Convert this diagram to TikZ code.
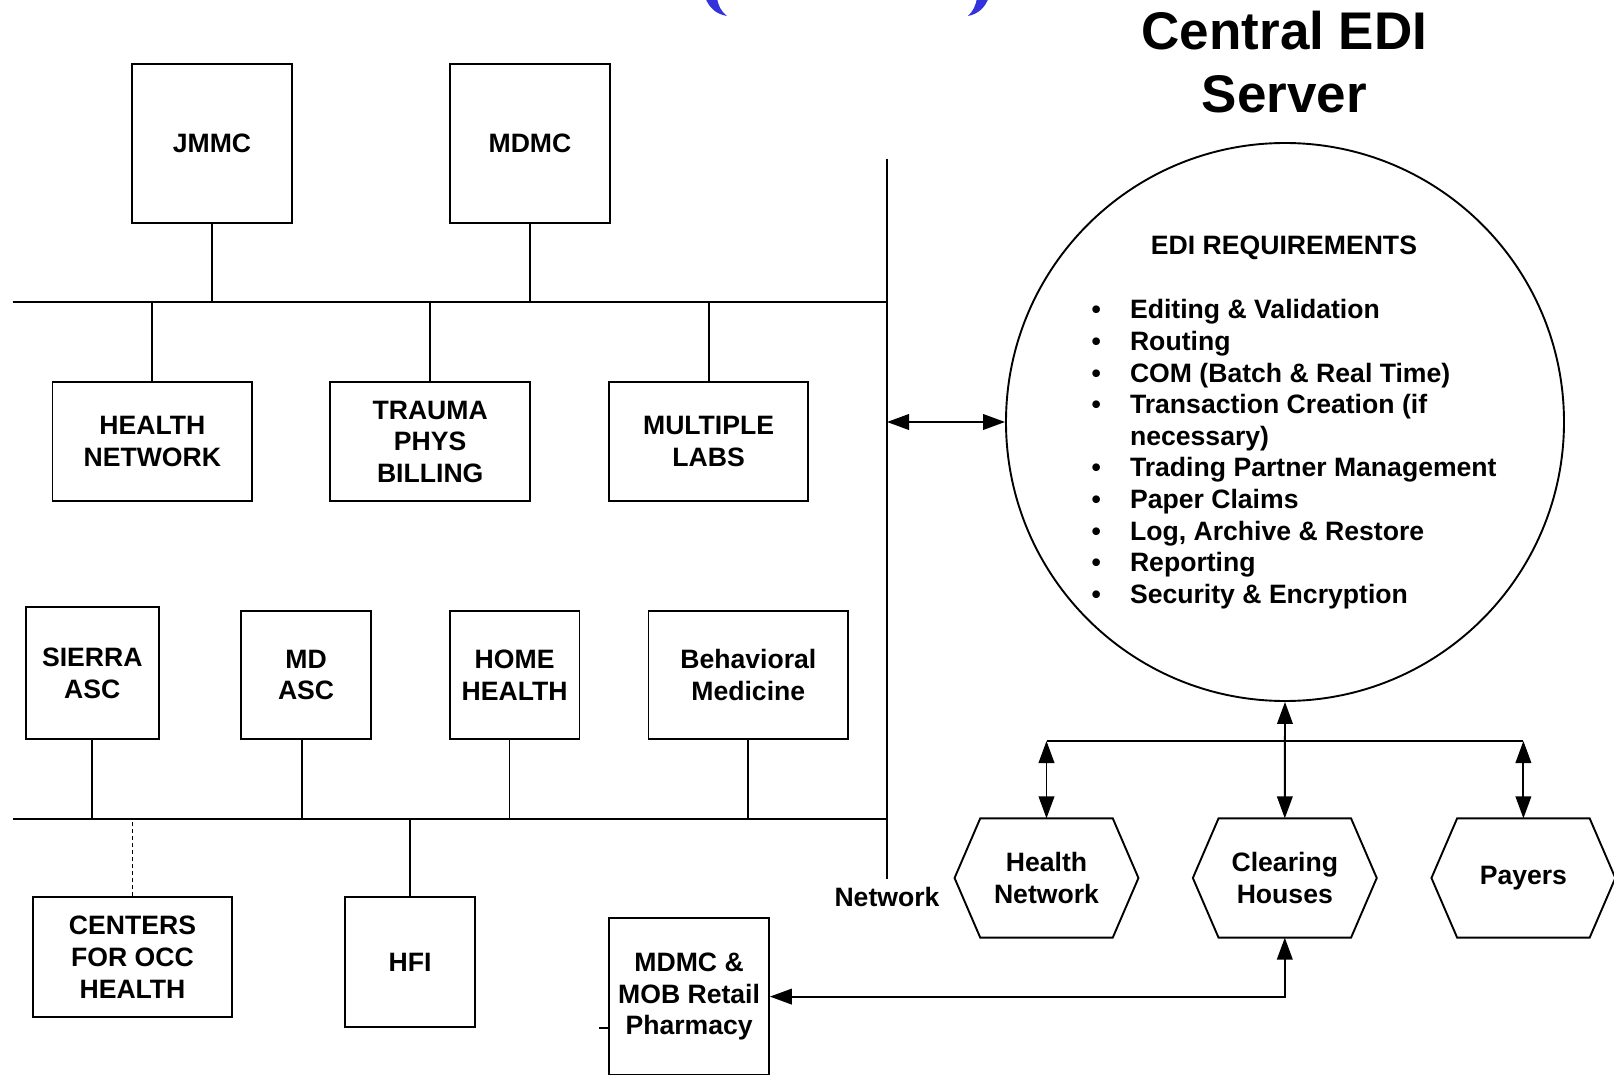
\documentclass[tikz,border=0pt]{standalone}
\usepackage{fontspec}
\newfontfamily\lsans{Liberation Sans}
\usetikzlibrary{arrows.meta}
\definecolor{titleblue}{RGB}{51,51,221}
\newcommand\bul{\makebox[0pt]{•}\hspace*{16.95pt}}
\newcommand\hexof[1]{\draw[hexline] (#1.west) -- ([xshift=12.85pt]#1.north west) -- ([xshift=-12.85pt]#1.north east) -- (#1.east) -- ([xshift=-12.85pt]#1.south east) -- ([xshift=12.85pt]#1.south west) -- cycle;}
\begin{document}
\begin{tikzpicture}[x=0.5pt,y=-0.5pt,
  line width=0.95pt,
  >={Triangle[length=11pt,width=7.8pt]},
  lbl/.style={font={\fontsize{13.3}{15.8}\lsans\bfseries}, align=center, inner sep=0pt},
  box/.style={lbl, draw, rectangle},
  hexlbl/.style={lbl, minimum width=91pt, minimum height=58.7pt},
  hexline/.style={line join=miter},
  dashlink/.style={dash pattern=on 2.3pt off 1.2pt}]
\useasboundingbox (0,0) rectangle (1614,1075);
\clip (0,0) rectangle (1614,1075);

% blue arcs at the top
\fill[titleblue] (705,-3) .. controls (709,8) and (716,14) .. (727,16) .. controls (721,11) and (718,6) .. (717,-3) -- cycle;
\fill[titleblue] (989,-3) .. controls (985,8) and (978,14) .. (968,16) .. controls (973,11) and (976,6) .. (977,-3) -- cycle;

% title (base anchor = baseline of last line)
\node[font={\fontsize{26.5}{31.3}\lsans\bfseries}, align=center, anchor=base, inner sep=0pt] (title) at (1284.5,112.5) {Central EDI\\Server};

% boxes
\node[box, minimum width=79.7pt, minimum height=79.5pt] (jmmc) at (212,143.5) {JMMC};
\node[box, minimum width=80pt, minimum height=79.5pt] (mdmc) at (530,143.5) {MDMC};
\node[box, minimum width=99.85pt, minimum height=59.7pt] (hn) at (152.3,441.6) {HEALTH\\NETWORK};
\node[box, minimum width=99.85pt, minimum height=59.7pt] (tr) at (430.2,441.6) {TRAUMA\\PHYS\\BILLING};
\node[box, minimum width=99.35pt, minimum height=59.7pt] (ml) at (708.6,441.6) {MULTIPLE\\LABS};
\node[box, minimum width=66.35pt, minimum height=66pt] (si) at (92.3,673.3) {SIERRA\\ASC};
\node[box, minimum width=64.85pt, minimum height=64.3pt] (mda) at (306.1,675) {MD\\ASC};
\node[box, minimum width=64.85pt, minimum height=64.3pt] (hh) at (514.6,675) {HOME\\HEALTH};
\node[box, minimum width=99.8pt, minimum height=64.3pt] (bm) at (748.3,675) {Behavioral\\Medicine};
\node[box, minimum width=99.8pt, minimum height=59.85pt] (coh) at (132.5,957.2) {CENTERS\\FOR OCC\\HEALTH};
\node[box, minimum width=65pt, minimum height=64.95pt] (hfi) at (410,962.3) {HFI};
\node[box, minimum width=79.85pt, minimum height=78.6pt] (ph) at (689.1,996.6) {MDMC \&\\MOB Retail\\Pharmacy};

% network and buses
\coordinate (tbL) at (12.5,302);
\coordinate (tbR) at (887,302);
\coordinate (bbL) at (12.5,819.3);
\coordinate (bbR) at (887,819.3);
\coordinate (nT) at (887,159);
\coordinate (nB) at (887,879);
\draw (tbL) -- (tbR);
\draw (bbL) -- (bbR);
\draw (nT) -- (nB);
\node[lbl, anchor=base] (netlbl) at (887,906.7) {Network};

\draw (jmmc.south) -- (jmmc.south |- tbL);
\draw (mdmc.south) -- (mdmc.south |- tbL);
\draw (hn.north) -- (hn.north |- tbL);
\draw (tr.north) -- (tr.north |- tbL);
\draw (ml.north) -- (ml.north |- tbL);
\draw (si.south) -- (si.south |- bbL);
\draw ([xshift=-2.2pt]mda.south) -- ([xshift=-2.2pt]mda.south |- bbL);
\draw ([xshift=-2.55pt]hh.south) -- ([xshift=-2.55pt]hh.south |- bbL);
\draw (bm.south) -- (bm.south |- bbL);
\draw[dashlink] (coh.north) -- (coh.north |- bbL);
\draw (hfi.north) -- (hfi.north |- bbL);

% EDI server circle
\node[circle, draw, minimum size=279pt, inner sep=0pt] (edi) at (1285,422) {};
\node[lbl, anchor=base] (reqtitle) at (1284,254.3) {EDI REQUIREMENTS};
\node[lbl, align=left, anchor=base west] (reqs) at (1095.2,603.3) {%
\bul Editing \& Validation\\
\bul Routing\\
\bul COM (Batch \& Real Time)\\
\bul Transaction Creation (if\\
\hspace*{16.95pt}necessary)\\
\bul Trading Partner Management\\
\bul Paper Claims\\
\bul Log, Archive \& Restore\\
\bul Reporting\\
\bul Security \& Encryption};

\draw[<->] (edi.west -| nT) -- (edi.west);

% hexagons
\node[hexlbl] (hxhn) at (1046.5,878) {Health\\Network};
\node[hexlbl] (hxch) at (1284.8,878) {Clearing\\Houses};
\node[hexlbl] (hxpy) at (1523.4,878) {Payers};
\hexof{hxhn}
\hexof{hxch}
\hexof{hxpy}

\coordinate (hbar) at (1046.5,741);
\draw (hbar -| hxhn.north) -- (hbar -| hxpy.north);
\draw[<->] (edi.south) -- (hxch.north);
\draw[<->] (hbar -| hxhn.north) -- (hxhn.north);
\draw[<->] (hbar -| hxpy.north) -- (hxpy.north);
\draw[<->] (ph.east) -| (hxch.south);
\coordinate (tick) at (599.3,1027.7);
\draw (tick) -- (tick -| ph.west);
\end{tikzpicture}
\end{document}
